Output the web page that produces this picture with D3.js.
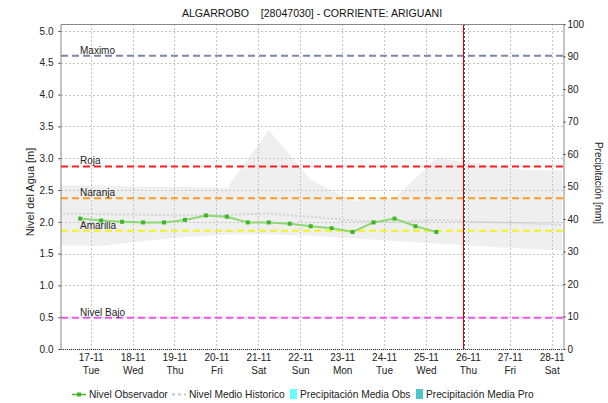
<!DOCTYPE html>
<html>
<head>
<meta charset="utf-8">
<script src="https://cdn.jsdelivr.net/npm/d3@7"></script>
<style>
    body { margin: 0; background: #fff; }
    text { font-family: 'Liberation Sans', Arial, sans-serif; }
</style>
</head>
<body>
<div id="chart"></div>
<script>
'use strict';

var chartTitle = 'ALGARROBO    [28047030] - CORRIENTE: ARIGUANI';

// observed level, every 12 h
var obsTimes  = ['2020-11-16 18:00', '2020-11-17 06:00', '2020-11-17 18:00', '2020-11-18 06:00',
                 '2020-11-18 18:00', '2020-11-19 06:00', '2020-11-19 18:00', '2020-11-20 06:00',
                 '2020-11-20 18:00', '2020-11-21 06:00', '2020-11-21 18:00', '2020-11-22 06:00',
                 '2020-11-22 18:00', '2020-11-23 06:00', '2020-11-23 18:00', '2020-11-24 06:00',
                 '2020-11-24 18:00', '2020-11-25 06:00'];
var obsLevels = [2.05, 2.02, 2.00, 1.99, 1.99, 2.03, 2.10, 2.08, 1.99, 1.99,
                 1.97, 1.93, 1.90, 1.84, 1.99, 2.05, 1.93, 1.84];

// historic level, daily
var histTimes = ['2020-11-16 06:00', '2020-11-17 06:00', '2020-11-18 06:00', '2020-11-19 06:00',
                 '2020-11-20 06:00', '2020-11-21 06:00', '2020-11-22 06:00', '2020-11-23 06:00',
                 '2020-11-24 06:00', '2020-11-25 06:00', '2020-11-26 06:00', '2020-11-27 06:00',
                 '2020-11-28 06:00'];
var histMin   = [1.63, 1.62, 1.70, 1.76, 1.80, 1.80, 1.78, 1.74, 1.70, 1.66, 1.62, 1.58, 1.55];
var histMax   = [2.57, 2.57, 2.55, 2.55, 2.53, 3.44, 2.66, 2.33, 2.37, 3.00, 2.92, 2.82, 2.81];
var histMean  = [2.13, 2.12, 2.11, 2.10, 2.11, 2.13, 2.08, 2.02, 2.00, 2.03, 2.00, 1.98, 1.95];

// alert levels
var levelNames  = ['Maximo', 'Roja', 'Naranja', 'Amarilla', 'Nivel Bajo'];
var levelValues = [4.61, 2.87, 2.37, 1.86, 0.49];
var levelColors = ['#7b87a9', '#ff1c1c', '#ff9c22', '#f2f21c', '#ee55ee'];

var timeStart = '2020-11-16 07:00';
var timeEnd   = '2020-11-28 06:30';
var nowTime   = '2020-11-25 21:20';

var levelTicks  = [0, 0.5, 1, 1.5, 2, 2.5, 3, 3.5, 4, 4.5, 5];
var precipTicks = [0, 10, 20, 30, 40, 50, 60, 70, 80, 90, 100];

var legendNames = ['Nivel Observador', 'Nivel Medio Historico', 'Precipitación Media Obs', 'Precipitación Media Pro'];

function levelChart()
{
    var scope = {};
    var exports = {};

    scope.margins = {top: 24, bottom: 54, left: 61, right: 45};
    scope.cw = 502;
    scope.ch = 325;

    scope.parse  = d3.timeParse('%Y-%m-%d %H:%M');
    scope.xScale = undefined;
    scope.yScale = undefined;
    scope.pScale = undefined;

    scope.appendSvg = function(div)
    {
        var node = d3.select(div).append('svg')
            .attr('width', scope.cw + scope.margins.left + scope.margins.right)
            .attr('height', scope.ch + scope.margins.top + scope.margins.bottom);

        return node;
    }

    scope.appendChartGroup = function(svg)
    {
        var chart = svg.append('g')
            .attr('transform', 'translate('+ scope.margins.left +','+ scope.margins.top +')');

        return chart;
    }

    scope.createScales = function()
    {
        scope.xScale = d3.scaleTime()
            .domain([scope.parse(timeStart), scope.parse(timeEnd)])
            .range([0, scope.cw]);
        scope.yScale = d3.scaleLinear().domain([0, 5.11]).range([scope.ch, 0]);
        scope.pScale = d3.scaleLinear().domain([0, 100]).range([scope.ch, 0]);
    }

    scope.appendBand = function(cht)
    {
        var rows = histTimes.map(function(t, i){
            return {t: scope.parse(t), lo: histMin[i], hi: histMax[i], m: histMean[i]};
        });

        cht.append('clipPath').attr('id', 'clip')
            .append('rect').attr('width', scope.cw).attr('height', scope.ch);

        var area = d3.area()
            .x(function(d){ return scope.xScale(d.t); })
            .y0(function(d){ return scope.yScale(d.lo); })
            .y1(function(d){ return scope.yScale(d.hi); });

        cht.append('path')
            .datum(rows)
            .attr('clip-path', 'url(#clip)')
            .attr('d', area)
            .style('fill', '#efefef');

        scope.meanRows = rows;
    }

    scope.appendGrid = function(cht)
    {
        var days = d3.timeDay.range(scope.parse('2020-11-17 00:00'), scope.parse('2020-11-29 00:00'));
        scope.days = days;

        cht.append('g').selectAll('line')
            .data(levelTicks)
            .enter()
            .append('line')
            .attr('x1', 0).attr('x2', scope.cw)
            .attr('y1', function(d){ return Math.round(scope.yScale(d)) + 0.5; })
            .attr('y2', function(d){ return Math.round(scope.yScale(d)) + 0.5; })
            .style('stroke', '#c4c4c4')
            .style('stroke-dasharray', '2,2');

        cht.append('g').selectAll('line')
            .data(days)
            .enter()
            .append('line')
            .attr('y1', 0).attr('y2', scope.ch)
            .attr('x1', function(d){ return Math.round(scope.xScale(d)) + 0.5; })
            .attr('x2', function(d){ return Math.round(scope.xScale(d)) + 0.5; })
            .style('stroke', '#c4c4c4')
            .style('stroke-dasharray', '2,2');
    }

    scope.appendMean = function(cht)
    {
        var line = d3.line()
            .x(function(d){ return scope.xScale(d.t); })
            .y(function(d){ return scope.yScale(d.m); });

        cht.append('path')
            .datum(scope.meanRows)
            .attr('clip-path', 'url(#clip)')
            .attr('d', line)
            .style('fill', 'none')
            .style('stroke', '#d2d2d2')
            .style('stroke-width', 2)
            .style('stroke-dasharray', '2,2');
    }

    scope.appendLevels = function(cht)
    {
        var g = cht.append('g');

        g.selectAll('line')
            .data(levelValues)
            .enter()
            .append('line')
            .attr('x1', 0).attr('x2', scope.cw)
            .attr('y1', function(d){ return scope.yScale(d); })
            .attr('y2', function(d){ return scope.yScale(d); })
            .style('stroke', function(d, i){ return levelColors[i]; })
            .style('stroke-width', 2)
            .style('stroke-dasharray', '7,4');

        g.selectAll('text')
            .data(levelValues)
            .enter()
            .append('text')
            .attr('x', 19)
            .attr('y', function(d){ return scope.yScale(d) - 2; })
            .style('font-size', '10px')
            .style('fill', '#222')
            .text(function(d, i){ return levelNames[i]; });
    }

    scope.appendObserved = function(cht)
    {
        var rows = obsTimes.map(function(t, i){ return {t: scope.parse(t), v: obsLevels[i]}; });

        var line = d3.line()
            .x(function(d){ return scope.xScale(d.t); })
            .y(function(d){ return scope.yScale(d.v); });

        cht.append('path')
            .datum(rows)
            .attr('d', line)
            .style('fill', 'none')
            .style('stroke', '#8fd872')
            .style('stroke-width', 2);

        cht.append('g').selectAll('rect')
            .data(rows)
            .enter()
            .append('rect')
            .attr('x', function(d){ return scope.xScale(d.t) - 2; })
            .attr('y', function(d){ return scope.yScale(d.v) - 2; })
            .attr('width', 4).attr('height', 4)
            .style('fill', '#3fb62a');
    }

    scope.appendNow = function(cht)
    {
        var x = Math.round(scope.xScale(scope.parse(nowTime)));

        cht.append('line')
            .attr('x1', x + 0.5).attr('x2', x + 0.5)
            .attr('y1', 0).attr('y2', scope.ch)
            .style('stroke', '#e00000');

        cht.append('line')
            .attr('x1', x + 1.5).attr('x2', x + 1.5)
            .attr('y1', 0).attr('y2', scope.ch)
            .style('stroke', '#555')
            .style('stroke-dasharray', '2,2');
    }

    scope.createAxes = function(svg)
    {
        var frame = svg.append('g')
            .attr('transform', 'translate('+ scope.margins.left +','+ scope.margins.top +')');

        frame.append('line')
            .attr('x1', 0).attr('x2', scope.cw).attr('y1', 0.5).attr('y2', 0.5)
            .style('stroke', '#888');
        frame.append('line')
            .attr('x1', 0).attr('x2', scope.cw).attr('y1', scope.ch + 0.5).attr('y2', scope.ch + 0.5)
            .style('stroke', '#333')
            .style('stroke-dasharray', '1,1');

        var yAxisGroup = svg.append('g')
            .attr('class', 'axis')
            .attr('transform', 'translate('+ (scope.margins.left - 0.5) +','+ scope.margins.top +')');
        yAxisGroup.call(d3.axisLeft(scope.yScale)
            .tickValues(levelTicks)
            .tickFormat(d3.format('.1f'))
            .tickSizeInner(2).tickSizeOuter(0).tickPadding(5));

        var pAxisGroup = svg.append('g')
            .attr('class', 'axis')
            .attr('transform', 'translate('+ (scope.margins.left + scope.cw + 0.5) +','+ scope.margins.top +')');
        pAxisGroup.call(d3.axisRight(scope.pScale)
            .tickValues(precipTicks)
            .tickSizeInner(2).tickSizeOuter(0).tickPadding(2));

        var xAxisGroup = svg.append('g')
            .attr('class', 'axis xAxis')
            .attr('transform', 'translate('+ scope.margins.left +','+ (scope.ch + scope.margins.top) +')');
        xAxisGroup.call(d3.axisBottom(scope.xScale)
            .tickValues(scope.days)
            .tickFormat(d3.timeFormat('%d-%m'))
            .tickSize(0).tickPadding(5));
        xAxisGroup.select('.domain').remove();

        var fmtDay = d3.timeFormat('%a');
        xAxisGroup.selectAll('.tick text').each(function(d){
            var t = d3.select(this);
            var label = t.text();
            t.text(null);
            t.append('tspan').attr('x', 0).attr('dy', '0.71em').text(label);
            t.append('tspan').attr('x', 0).attr('dy', '1.25em').text(fmtDay(d));
        });

        svg.selectAll('.axis text').style('font-size', '10px').style('fill', '#222')
            .style('font-family', "'Liberation Sans', Arial, sans-serif");
        svg.selectAll('.axis .domain').style('stroke', '#888');
        svg.selectAll('.axis .tick line').style('stroke', '#333');

        svg.append('text')
            .attr('transform', 'translate(34,192) rotate(-90)')
            .attr('text-anchor', 'middle')
            .style('font-size', '11px')
            .style('fill', '#222')
            .text('Nivel del Agua [m]');

        svg.append('text')
            .attr('transform', 'translate(595,183) rotate(90)')
            .attr('text-anchor', 'middle')
            .style('font-size', '10px')
            .style('fill', '#222')
            .text('Precipitación [mm]');

        svg.append('text')
            .attr('x', 312).attr('y', 17)
            .attr('text-anchor', 'middle')
            .style('font-size', '10.6px')
            .style('fill', '#111')
            .style('white-space', 'pre')
            .text(chartTitle);
    }

    scope.appendLegend = function(svg)
    {
        var xs = [72, 172, 290, 416];
        var lg = svg.append('g').attr('transform', 'translate(0,394)');

        var items = lg.selectAll('g')
            .data(legendNames)
            .enter()
            .append('g')
            .attr('transform', function(d, i){ return 'translate('+ xs[i] +',0)'; });

        items.append('text')
            .attr('x', function(d, i){ return i < 2 ? 17 : 10; })
            .attr('y', 4)
            .style('font-size', '10.2px')
            .style('fill', '#222')
            .text(function(d){ return d; });

        var obs = items.filter(function(d, i){ return i == 0; });
        obs.append('line').attr('x1', 0).attr('x2', 14).attr('y1', 0.5).attr('y2', 0.5)
            .style('stroke', '#3fb62a').style('stroke-width', 1.5);
        obs.append('rect').attr('x', 5).attr('y', -1.5).attr('width', 4).attr('height', 4)
            .style('fill', '#3fb62a');

        items.filter(function(d, i){ return i == 1; })
            .append('line').attr('x1', 0).attr('x2', 14).attr('y1', 0.5).attr('y2', 0.5)
            .style('stroke', '#c8c8c8').style('stroke-width', 2).style('stroke-dasharray', '3,3');

        items.filter(function(d, i){ return i == 2; })
            .append('rect').attr('x', 0).attr('y', -5).attr('width', 7).attr('height', 10)
            .style('fill', '#66ffff');
        items.filter(function(d, i){ return i == 3; })
            .append('rect').attr('x', 0).attr('y', -5).attr('width', 7).attr('height', 10)
            .style('fill', '#4cc6c6');
    }

    //------------- exported API -----------------------------------

    exports.run = function(div)
    {
        var svg = scope.appendSvg(div);
        var cht = scope.appendChartGroup(svg);

        scope.createScales();
        scope.appendBand(cht);
        scope.appendGrid(cht);
        scope.appendMean(cht);
        scope.appendLevels(cht);
        scope.appendObserved(cht);
        scope.appendNow(cht);
        scope.createAxes(svg);
        scope.appendLegend(svg);
    }

    return exports;
};

levelChart().run('#chart');
</script>
</body>
</html>
